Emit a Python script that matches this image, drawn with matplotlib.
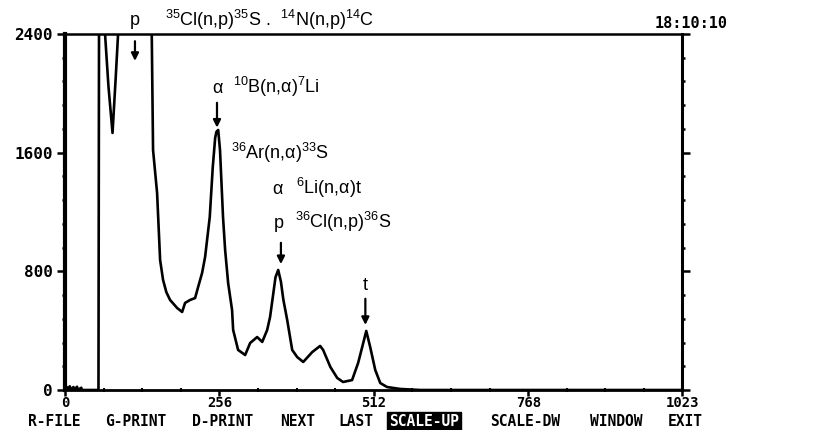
#!/usr/bin/env python3
import matplotlib
matplotlib.use("Agg")
from matplotlib import pyplot as plt
from matplotlib.ticker import MultipleLocator, FixedLocator

# spectrum (channel, counts); 2700 = off scale
channels = [0, 3, 4, 8, 9, 14, 15, 20, 21, 27, 28, 55.5, 56.5, 64, 66.4, 72,
            78.8, 84, 88, 143, 146, 152.7, 157.7, 162.6, 168, 174.2, 185.9,
            194.2, 199.1, 207.4, 215.7, 220.7, 227.3, 232.3, 240, 245, 249,
            251, 254, 257, 262, 265.5, 270.5, 277, 278.8, 287, 298.7, 307,
            318.6, 327, 335.2, 340, 345, 349, 353.5, 358, 362, 368.4, 376.7,
            385, 395, 410, 423, 428, 440, 451.4, 461, 476, 486, 494.5, 499.5,
            506, 514.4, 522.7, 534, 556, 589, 1023]
counts = [0, 20, 0, 25, 0, 20, 0, 22, 0, 15, 0, 0, 2700, 2700, 2400, 2050,
          1733, 2100, 2400, 2700, 1618, 1328, 876, 742, 660, 607, 553,
          526, 587, 607, 620, 694, 789, 897, 1166, 1503, 1700,
          1740, 1753, 1618, 1166, 944, 721, 539, 405, 270, 236, 317,
          357, 324, 405, 492, 640, 760, 809, 730, 610, 472, 270,
          222, 189, 256, 297, 270, 155, 81, 54, 67, 182, 317, 398,
          290, 135, 47, 20, 7, 0, 0]

x_ticks = [0, 256, 512, 768, 1023]
y_ticks = [0, 800, 1600, 2400]
menu = ["R-FILE", "G-PRINT", "D-PRINT", "NEXT", "LAST", "SCALE-UP",
        "SCALE-DW", "WINDOW", "EXIT"]
menu_x = [28, 105, 192, 280, 338, 389, 490, 590, 668]

W, H = 821, 430
mono = "DejaVu Sans Mono"
plt.rcParams["mathtext.fontset"] = "custom"
plt.rcParams["mathtext.rm"] = "Liberation Sans"
plt.rcParams["font.family"] = ["Liberation Sans", "DejaVu Sans"]


def px(x, y):
    return x / W, 1 - y / H


fig = plt.figure(figsize=(W / 100, H / 100), dpi=100)
ax = fig.add_axes([65 / W, 1 - 390 / H, 617 / W, 356 / H])
ax.plot(channels, counts, color="black", lw=1.9, solid_joinstyle="round")
ax.set_xlim(0, 1023)
ax.set_ylim(0, 2400)

for side, w in [("left", 3), ("right", 2.2), ("bottom", 2), ("top", 1.8)]:
    ax.spines[side].set_linewidth(w)

ax.xaxis.set_major_locator(FixedLocator(x_ticks))
ax.xaxis.set_minor_locator(MultipleLocator(64))
ax.yaxis.set_major_locator(FixedLocator(y_ticks))
ax.yaxis.set_minor_locator(MultipleLocator(160))
ax.tick_params(axis="y", which="both", right=True, direction="out", width=1.8)
ax.tick_params(axis="y", which="major", length=6, pad=3)
ax.tick_params(axis="y", which="minor", length=2.5)
ax.tick_params(axis="x", which="major", direction="out", length=4, width=1.8, pad=0)
ax.tick_params(axis="x", which="minor", direction="inout", length=3, width=1.5)
for lab in ax.get_yticklabels():
    lab.set_fontfamily(mono)
    lab.set_fontweight("bold")
    lab.set_fontsize(11.5)
for lab in ax.get_xticklabels():
    lab.set_fontfamily(mono)
    lab.set_fontweight("bold")
    lab.set_fontsize(10)

# peak labels
fs = 13
ax.text(116, 2494, "p", fontsize=fs, ha="center", va="center", clip_on=False)
ax.text(166, 2494, r"$^{35}$Cl(n,p)$^{35}$S .  $^{14}$N(n,p)$^{14}$C",
        fontsize=fs, ha="left", va="center", clip_on=False)
ax.text(252, 2030, "α", fontsize=fs, ha="center", va="center")
ax.text(278, 2040, r"$^{10}$B(n,α)$^{7}$Li", fontsize=fs, ha="left", va="center")
ax.text(275, 1595, r"$^{36}$Ar(n,α)$^{33}$S", fontsize=fs, ha="left", va="center")
ax.text(352, 1355, "α", fontsize=fs, ha="center", va="center")
ax.text(383, 1360, r"$^{6}$Li(n,α)t", fontsize=fs, ha="left", va="center")
ax.text(355, 1125, "p", fontsize=fs, ha="center", va="center")
ax.text(382, 1130, r"$^{36}$Cl(n,p)$^{36}$S", fontsize=fs, ha="left", va="center")
ax.text(498, 705, "t", fontsize=fs, ha="center", va="center")

arrow = dict(arrowstyle="-|>", lw=1.6, color="black", mutation_scale=11)
for xa, y0, y1 in [(116, 2370, 2200), (252, 1955, 1750),
                   (358, 1011, 830), (498, 634, 420)]:
    ax.annotate("", xy=(xa, y1), xytext=(xa, y0), arrowprops=arrow)

# screen furniture
fig.text(*px(655, 24), "18:10:10", fontfamily=mono, fontweight="bold",
         fontsize=11, va="center")
for name, xm in zip(menu, menu_x):
    if name == "SCALE-UP":
        fig.text(*px(xm, 421), name, fontfamily=mono, fontweight="bold",
                 fontsize=10.5, va="center", color="white",
                 bbox=dict(facecolor="black", edgecolor="black", pad=1.2))
    else:
        fig.text(*px(xm, 421), name, fontfamily=mono, fontweight="bold",
                 fontsize=10.5, va="center")

fig.savefig("out.png", dpi=100)
